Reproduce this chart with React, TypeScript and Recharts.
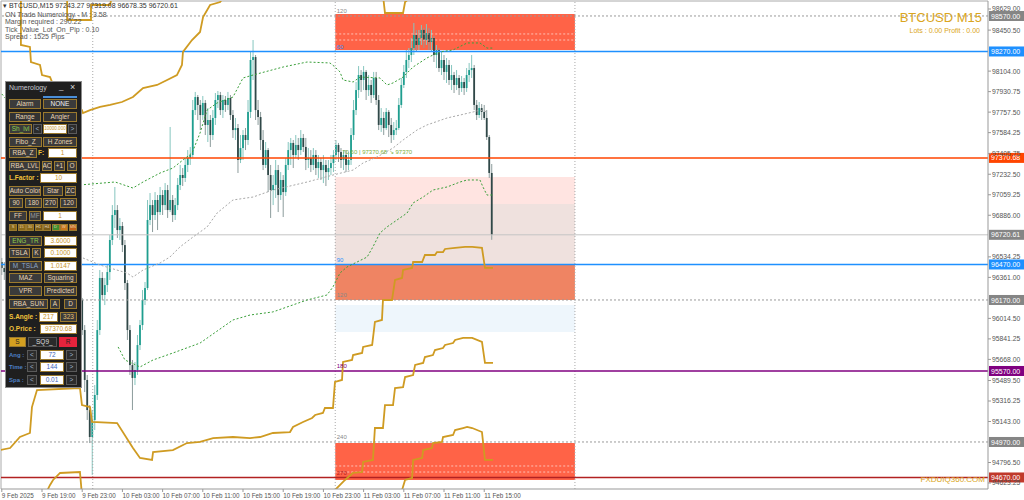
import React from 'react';
import { ComposedChart, Bar, Line, XAxis, YAxis, ReferenceLine, ReferenceArea, ReferenceDot } from 'recharts';

// ---- chart data (BTCUSD M15, bar index 0 = 9 Feb 15:00) ----
const firstOpen = 96491;
const barClose = [
  96440, 96406, 96508, 96592, 96634, 96719, 96677, 96803, 96888, 96829,
  96930, 96972, 96888, 96803, 96744, 96778, 96677, 96592, 96634, 96525,
  96491, 96550, 96440, 96381, 96423, 96322, 96271, 96339, 96254, 96187,
  96237, 96170, 95916, 95494, 95240, 95012, 95156, 95367, 95916, 96356,
  96212, 96296, 96406, 96677, 96888, 96930, 96761, 96795, 96634, 96313,
  95916, 95620, 95511, 95578, 95789, 95958, 96170, 96271, 96846, 96972,
  96888, 97015, 96913, 97057, 96972, 97099, 96930, 97015, 96888, 96972,
  97142, 97226, 97201, 97311, 97370, 97395, 97775, 97885, 97818, 97733,
  97835, 97649, 97691, 97564, 97708, 97860, 97902, 97775, 97860, 97818,
  97877, 97733, 97606, 97623, 97353, 97454, 97564, 97522, 97759, 98198,
  98223, 97775, 97716, 97522, 97311, 97437, 97226, 97099, 97142, 97268,
  97057, 97184, 97082, 97311, 97437, 97497, 97395, 97480, 97437, 97539,
  97463, 97353, 97370, 97311, 97395, 97285, 97336, 97268, 97311, 97251,
  97285, 97327, 97395, 97480, 97420, 97353, 97395, 97311, 97353, 97564,
  97775, 97944, 98071, 98029, 98097, 97944, 97987, 97902, 98046, 97860,
  97649, 97708, 97623, 97759, 97649, 97564, 97606, 97623, 97818, 97987,
  98097, 98198, 98240, 98299, 98409, 98325, 98384, 98452, 98367, 98426,
  98350, 98384, 98240, 98282, 98130, 98198, 98097, 98156, 98029, 98071,
  97987, 98046, 97961, 98012, 97961, 98071, 98113, 98130, 97818, 97733,
  97792, 97759, 97708, 97547, 97243.27, 96720.61,
];
const barHigh = [
  96525, 96491, 96550, 96634, 96694, 96778, 96761, 96863, 96947, 96930,
  97015, 97049, 97015, 96930, 96846, 96846, 96803, 96711, 96694, 96660,
  96592, 96609, 96575, 96491, 96491, 96457, 96372, 96406, 96372, 96296,
  96305, 96288, 96187, 95958, 95536, 95282, 95240, 95451, 96001, 96423,
  96406, 96356, 96465, 96719, 96972, 97125, 96972, 96863, 96829, 96677,
  96339, 95958, 95663, 95646, 95874, 96001, 96254, 96322, 97015, 97074,
  97015, 97082, 97057, 97125, 97099, 97158, 97142, 97632, 97057, 97032,
  97201, 97311, 97285, 97370, 97437, 97463, 97860, 97928, 97902, 97860,
  97894, 97860, 97792, 97733, 97775, 97919, 97936, 97928, 97902, 97894,
  97928, 97902, 97775, 97708, 97657, 97564, 97606, 97623, 97860, 98266,
  98367, 98240, 97860, 97759, 97606, 97505, 97454, 97311, 97226, 97353,
  97311, 97251, 97226, 97370, 97505, 97539, 97522, 97564, 97539, 97606,
  97573, 97539, 97454, 97437, 97454, 97437, 97395, 97370, 97395, 97353,
  97353, 97395, 97437, 97522, 97497, 97454, 97437, 97437, 97420, 97623,
  97860, 98012, 98147, 98113, 98147, 98113, 98071, 98029, 98097, 98097,
  97902, 97792, 97759, 97792, 97775, 97708, 97674, 97691, 97877, 98046,
  98156, 98282, 98299, 98384, 98511, 98452, 98452, 98494, 98468, 98502,
  98468, 98452, 98401, 98325, 98299, 98266, 98240, 98215, 98198, 98156,
  98097, 98113, 98071, 98063, 98046, 98130, 98173, 98240, 98156, 97860,
  97843, 97826, 97818, 97775, 97564, 97319.08,
];
const barLow = [
  96381, 96339, 96372, 96465, 96550, 96592, 96609, 96651, 96761, 96761,
  96795, 96888, 96829, 96744, 96677, 96694, 96609, 96541, 96550, 96465,
  96423, 96440, 96381, 96322, 96339, 96254, 96203, 96237, 96187, 96127,
  96170, 96085, 95874, 95392, 95156, 94961, 94691, 95071, 95325, 95874,
  96170, 96127, 96237, 96339, 96634, 96778, 96694, 96677, 96575, 96254,
  95832, 95536, 95240, 95451, 95536, 95747, 95916, 96127, 96254, 96803,
  96744, 96846, 96761, 96888, 96888, 96930, 96863, 96913, 96829, 96846,
  96930, 97099, 97133, 97167, 97251, 97311, 97370, 97733, 97691, 97606,
  97691, 97564, 97505, 97463, 97522, 97649, 97792, 97733, 97708, 97759,
  97775, 97691, 97539, 97522, 97243, 97327, 97353, 97437, 97480, 97708,
  98029, 97691, 97649, 97437, 97268, 97285, 97082, 96863, 96972, 97032,
  96913, 97015, 96871, 97049, 97268, 97311, 97285, 97370, 97353, 97395,
  97420, 97268, 97285, 97251, 97268, 97226, 97201, 97184, 97158, 97133,
  97184, 97226, 97251, 97353, 97336, 97285, 97268, 97251, 97268, 97311,
  97522, 97733, 97877, 97928, 97944, 97860, 97894, 97835, 97877, 97818,
  97606, 97590, 97564, 97606, 97547, 97497, 97522, 97564, 97606, 97792,
  97961, 98046, 98130, 98181, 98240, 98266, 98282, 98325, 98299, 98325,
  98282, 98266, 98181, 98130, 98097, 98071, 98029, 98004, 97987, 97944,
  97919, 97944, 97902, 97928, 97902, 97928, 98012, 98046, 97775, 97691,
  97708, 97691, 97691, 97522, 97201, 96678.35,
];

const timeTicks = [0, 16, 32, 48, 64, 80, 96, 112, 128, 144, 160, 176, 192];
const timeLabels = [
  '9 Feb 2025', '9 Feb 19:00', '9 Feb 23:00', '10 Feb 03:00', '10 Feb 07:00', '10 Feb 11:00',
  '10 Feb 15:00', '10 Feb 19:00', '10 Feb 23:00', '11 Feb 03:00', '11 Feb 07:00', '11 Feb 11:00', '11 Feb 15:00',
];
const priceTicks = [
  98629, 98450.5, 98104, 97930.75, 97757.5, 97584.25, 97405.75, 97232.5, 97059.25, 96886,
  96534.25, 96361, 96014.5, 95841.25, 95668, 95489.5, 95316.25, 95143, 94796.5, 94623.25,
];
const priceMin = 94572.6;
const priceMax = 98696.6;
const barFrom = -0.32;
const barTo = 392.5;

// moving averages [bar index, price]
const maUpper: [number, number][] = [
  [0, 97911], [31.1, 97142], [45.1, 97167], [52.2, 97116], [56.2, 97167], [63, 97243], [68.1, 97285],
  [72.1, 97353], [75.7, 97412], [78.9, 97581], [81.7, 97775], [85.7, 97835], [92, 97885], [96, 98046],
  [100, 98071], [112, 98139], [121.5, 98181], [130.6, 98173], [132.6, 98139], [134.6, 98097], [135.8, 98029],
  [139.8, 98012], [142.6, 98054], [150.5, 98046], [153.3, 97987], [155.7, 98004], [159.7, 98054], [163.7, 98139],
  [169.2, 98215], [171.6, 98240], [174.4, 98266], [179.6, 98283], [185.2, 98342], [190.3, 98342], [193.1, 98299],
  [195.5, 98299],
];
const maLower: [number, number][] = [
  [46.3, 95773], [49, 95663], [55, 95604], [60.2, 95663], [68.1, 95722], [78.9, 95806], [92, 96001],
  [98.8, 96043], [107.9, 96069], [121.5, 96170], [129.4, 96212], [131.8, 96280], [134.6, 96398], [137.4, 96449],
  [141.4, 96491], [145.4, 96533], [147.7, 96618], [150.5, 96736], [153.3, 96787], [157.3, 96846], [161.3, 96905],
  [163.7, 96990], [167.7, 97040], [171.6, 97099], [177.2, 97125], [182.4, 97167], [185.2, 97184], [190.3, 97184],
  [191.5, 97125], [193.1, 97057], [195.5, 97057],
];
const maSlow: [number, number][] = [
  [32.3, 96525], [39.1, 96465], [49.8, 96398], [52.2, 96364], [56.2, 96423], [63, 96483], [66.9, 96533],
  [70.9, 96618], [76.1, 96702], [81.7, 96787], [85.7, 96905], [92, 97015], [100, 97040], [107.9, 97099],
  [121.5, 97167], [131.8, 97226], [139.8, 97268], [143.8, 97328], [149.3, 97378], [155.7, 97454], [159.7, 97522],
  [165.3, 97607], [169.2, 97649], [177.2, 97708], [182.4, 97733], [187.6, 97759], [190.3, 97775], [193.5, 97759],
];

// numerology step levels [bar index, price]
const goldNotch: [number, number][] = [
  [26, 98747], [26, 98536], [35.5, 98536], [35.5, 98663], [43.1, 98663], [43.9, 98747],
];
const goldUpper: [number, number][] = [
  [7.6, 98747], [7.6, 98325], [11.2, 98308], [11.6, 98181], [15.2, 98156], [16, 98071], [19.2, 98054],
  [20, 98012], [24.4, 98012], [25.2, 97775], [31.9, 97775], [32.3, 97750], [35.1, 97775], [39.1, 97801],
  [43.1, 97818], [47.8, 97843], [52.2, 97885], [56.2, 97961], [61.8, 97987], [65.8, 98029], [69.7, 98071],
  [71.7, 98156], [72.1, 98266], [75.7, 98367], [78.9, 98435], [80.1, 98561], [82.9, 98663], [86.9, 98688],
  [88.8, 98747],
];
const goldCap: [number, number][] = [
  [151.7, 98747], [152.5, 98595], [159.7, 98595], [160.5, 98688], [163.7, 98747],
];
const goldMid: [number, number][] = [
  [-0.7, 94902], [3.3, 94919], [7.2, 95012], [11.2, 95046], [12, 95265], [14, 95409], [31.1, 95426],
  [31.9, 95282], [35.1, 95265], [35.9, 95139], [45.9, 95130], [52.2, 94919], [55, 94835], [59.8, 94818],
  [60.2, 94885], [68.1, 94902], [73.7, 94961], [78.9, 94970], [84.1, 95003], [92, 95012], [98.8, 95003],
  [102.8, 95012], [107.9, 95046], [114.7, 95054], [115.9, 95097], [119.9, 95139], [123.5, 95173],
  [124.7, 95198], [127.8, 95215], [128.6, 95257], [131.8, 95257], [132.6, 95477], [135.4, 95494],
  [135.8, 95646], [139.4, 95663], [139.8, 95705], [143.4, 95722], [143.8, 95773], [147.4, 95790],
  [148.5, 95984], [151.3, 96001], [151.7, 96170], [155.3, 96170], [156.5, 96339], [159.3, 96356],
  [159.7, 96424], [163.3, 96441], [163.7, 96491], [167.3, 96491], [168.4, 96550], [172.4, 96550],
  [173.2, 96575], [175.6, 96575], [176.4, 96601], [180.4, 96610], [184.4, 96618], [187.2, 96618],
  [191.1, 96610], [192.3, 96441], [195.5, 96441],
];
const goldLow: [number, number][] = [
  [17.2, 94522], [19.2, 94607], [20.4, 94649], [23.2, 94708], [31.1, 94716], [31.9, 94522], [60, 94310],
  [120, 94310], [131.8, 94522], [132.6, 94564], [136.6, 94649], [139.8, 94708], [143.4, 94716], [143.8, 94801],
  [147.7, 94818], [148.5, 95088], [151.7, 95088], [152.5, 95282], [155.7, 95282], [156.5, 95426],
  [159.7, 95434], [160.5, 95519], [163.7, 95536], [164.5, 95621], [167.7, 95638], [168.4, 95688],
  [171.6, 95705], [172.4, 95747], [175.6, 95764], [176.4, 95790], [179.6, 95806], [180.4, 95832],
  [183.6, 95849], [187.2, 95849], [191.1, 95815], [192.3, 95638], [195.5, 95638],
];
const goldBottom: [number, number][] = [
  [158.5, 94310], [159.3, 94564], [160.5, 94649], [163.3, 94666], [163.7, 94818], [167.3, 94835],
  [167.7, 94902], [171.2, 94919], [171.6, 94961], [175.2, 94970], [175.6, 95012], [179.6, 95029],
  [180.4, 95071], [183.6, 95088], [185.2, 95097], [187.2, 95088], [191.1, 95054], [192.3, 94818],
  [195.5, 94818],
];

// horizontal levels
const levelPrices = [98570, 98270, 97370.68, 96720.61, 96470, 96170, 95570, 94970, 94670];
const levelStyles = [
  { stroke: '#9a9a9a', dash: '2 2', w: 1, tag: '#858585' },
  { stroke: '#1e90ff', dash: undefined, w: 1.5, tag: '#1e90ff' },
  { stroke: '#ff4500', dash: undefined, w: 1.5, tag: '#ff4500' },
  { stroke: '#c4c4c4', dash: undefined, w: 1, tag: '#858585' },
  { stroke: '#1e90ff', dash: undefined, w: 1.5, tag: '#1e90ff' },
  { stroke: '#9a9a9a', dash: '2 2', w: 1, tag: '#858585' },
  { stroke: '#800080', dash: undefined, w: 1.5, tag: '#800080' },
  { stroke: '#9a9a9a', dash: '2 2', w: 1, tag: '#858585' },
  { stroke: '#b22222', dash: undefined, w: 1.5, tag: '#c0392b' },
];
const angleTexts = ['120', '60', '90', '120', '180', '240', '270'];
const anglePrices = [98570, 98270, 96470, 96170, 95570, 94970, 94670];
const angleColors = ['#888', '#1e90ff', '#1e90ff', '#888', '#800080', '#888', '#b22222'];

// zone boxes
const zoneFrom = 132.7;
const zoneTo = 228.1;
const zoneBands: [number, number][] = [
  [98282, 98587], [96981, 97209], [96474, 96981], [96170, 96465], [95899, 96127], [94649, 94961],
];
const zoneFills = ['#ff6347', '#ffe4e1', '#efe1de', '#ef8463', '#eef6fc', '#ff6347'];
const zoneDashPrices = [98418, 98367, 94767, 94716];
const sessionMarks = [36.2, 132.7, 228.1];
const pivotNote = '70.60 | 97370.68   \u2198 97370';

const candles = barClose.map((c, k) => ({
  i: k,
  o: k === 0 ? firstOpen : barClose[k - 1],
  h: barHigh[k],
  l: barLow[k],
  c,
}));
const pts = (arr: [number, number][]) => arr.map(([i, v]) => ({ i, v }));

const BULL = '#1f9e8f';
const BEAR = '#304848';

const Candle = (props: any) => {
  const { x, y, width, height } = props;
  const p = props.payload || props;
  if (x == null || y == null || !p || p.h === p.l) return null;
  const top = Math.min(y, y + height);
  const hh = Math.abs(height);
  const k = hh / (p.h - p.l);
  const cx = x + width / 2;
  const up = p.c >= p.o;
  const bTop = top + (p.h - Math.max(p.o, p.c)) * k;
  const bH = Math.max(1, Math.abs(p.o - p.c) * k);
  return (
    <g>
      <line x1={cx} x2={cx} y1={top} y2={top + hh} stroke={up ? '#86c6bf' : '#8c9c9c'} strokeWidth={1} />
      <rect x={cx - 0.9} y={bTop} width={1.8} height={bH} fill={up ? BULL : BEAR} />
    </g>
  );
};

const TimeTick = (props: any) => {
  const { x, y, payload } = props;
  const idx = timeTicks.indexOf(payload.value);
  return (
    <text x={x} y={y + 5.5} fontSize={6.3} fill="#555" textAnchor="start">
      {timeLabels[idx]}
    </text>
  );
};

const priceTag = (bg: string, text: string) => (props: any) => {
  const vb = props.viewBox || {};
  const x = vb.x + vb.width + 1;
  const y = vb.y;
  return (
    <g>
      <rect x={x} y={y - 5} width={35} height={10} fill={bg} />
      <text x={x + 2} y={y + 2.6} fontSize={7} fill="#fff">{text}</text>
    </g>
  );
};

// ---- Numerology panel ----
type Kind = 'btn' | 'nav' | 'inp' | 'lab' | 'blab' | 'binp';
const kindStyle: Record<Kind, React.CSSProperties> = {
  btn: { background: '#3b3b3b', border: '1px solid #9b7a2e', color: '#e8d4b4' },
  nav: { background: '#2c2c2c', border: '1px solid #5a5a5a', color: '#9fb4cc' },
  inp: { background: '#ffffff', border: '1px solid #9b7a2e', color: '#c8952c' },
  binp: { background: '#ffffff', border: '1px solid #9b7a2e', color: '#3f66b8' },
  lab: { color: '#f0c23c', fontWeight: 700, justifyContent: 'flex-start', overflow: 'visible' },
  blab: { color: '#4d7fc4', fontWeight: 700, justifyContent: 'flex-start', overflow: 'visible', fontSize: 6 },
};
type Item = [number, number, number, number, string, Kind, React.CSSProperties?];
const panelItems: Item[] = [
  [9, 99, 32, 10, 'Alarm', 'btn'], [43, 99, 34, 10, 'NONE', 'btn', { color: '#f2f2f2' }],
  [9, 112, 32, 10, 'Range', 'btn', { background: '#333' }], [43, 112, 34, 10, 'Angler', 'btn', { background: '#333' }],
  [9, 124, 23, 10, 'Sh_lvl', 'btn', { color: '#8fcf4a' }], [33, 124, 9, 10, '<', 'nav'],
  [43, 124, 24, 10, '10000.000', 'inp', { fontSize: 4.5 }], [68, 124, 9, 10, '>', 'nav'],
  [9, 137, 33, 10, 'Fibo_Z', 'btn'], [43, 137, 34, 10, 'H Zones', 'btn'],
  [9, 148, 28, 10, 'RBA_Z', 'btn'], [38, 148, 9, 10, 'F:', 'lab'], [48, 148, 29, 10, '1', 'inp'],
  [9, 161, 31, 10, 'RBA_LVL', 'btn'], [42, 161, 10, 10, 'AC', 'btn'], [54, 161, 11, 10, '+1', 'btn'],
  [67, 161, 10, 10, 'O', 'btn'],
  [9, 173, 30, 10, 'L.Factor :', 'lab'], [40, 173, 37, 10, '10', 'inp'],
  [9, 186, 32, 10, 'Auto Color', 'btn'], [43, 186, 20, 10, 'Star', 'btn'], [65, 186, 11, 10, 'ZC', 'btn'],
  [9, 198, 14, 10, '90', 'btn'], [25, 198, 17, 10, '180', 'btn'], [43, 198, 15, 10, '270', 'btn'],
  [60, 198, 17, 10, '120', 'btn'],
  [9, 211, 18, 10, 'FF', 'btn'], [29, 211, 12, 10, 'MF', 'btn', { color: '#9a9a9a' }], [43, 211, 34, 10, '1', 'inp'],
  [9, 223.5, 8, 7, 'S', 'btn', { background: '#8b6a1a', fontSize: 4 }],
  [17.5, 223.5, 8, 7, '15', 'btn', { background: '#8b6a1a', fontSize: 4 }],
  [26, 223.5, 8, 7, '30', 'btn', { background: '#8b6a1a', fontSize: 4 }],
  [34.5, 223.5, 8, 7, 'H1', 'btn', { background: '#7a5c18', fontSize: 4 }],
  [43, 223.5, 8, 7, 'H4', 'btn', { background: '#7a5c18', fontSize: 4 }],
  [51.5, 223.5, 8, 7, 'D', 'btn', { background: '#3f8f2f', fontSize: 4 }],
  [60, 223.5, 8, 7, 'W', 'btn', { background: '#c8781e', fontSize: 4 }],
  [68.5, 223.5, 8.5, 7, 'MN', 'btn', { background: '#c0601a', fontSize: 4 }],
  [9, 236, 33, 10, 'ENG_TR', 'btn', { color: '#8fcf4a' }], [44, 236, 33, 10, '3.6000', 'inp'],
  [9, 248, 21, 10, 'TSLA', 'btn'], [32, 248, 9, 10, 'K', 'btn'], [44, 248, 33, 10, '0.1000', 'inp'],
  [9, 261, 33, 10, 'M_TSLA', 'btn', { color: '#8ea4c4' }], [44, 261, 33, 10, '1.0147', 'inp'],
  [9, 273, 33, 10, 'MAZ', 'btn'], [44, 273, 33, 10, 'Squaring', 'btn'],
  [9, 286, 33, 10, 'VPR', 'btn'], [44, 286, 33, 10, 'Predicted', 'btn'],
  [9, 299, 39, 10, 'RBA_SUN', 'btn'], [50, 299, 10, 10, 'A', 'btn'], [64, 299, 13, 10, 'D', 'btn'],
  [9, 312, 30, 10, 'S.Angle :', 'lab'], [39, 312, 19, 10, '217', 'inp'], [60, 312, 17, 10, '323', 'btn', { color: '#e6c070' }],
  [9, 324, 30, 10, 'O.Price :', 'lab'], [40, 324, 37, 10, '97370.68', 'inp'],
  [9, 337, 17, 10, 'S', 'btn', { background: '#d4a020', color: '#222' }],
  [28, 337, 29, 10, '_SQ9_', 'btn', { background: '#2a2a2a', color: '#ddd', border: '1px solid #555' }],
  [59, 337, 18, 10, 'R', 'btn', { background: '#e6233c', color: '#222', border: '1px solid #e6233c' }],
  [9, 350, 17, 10, 'Ang :', 'blab'], [27, 350, 10, 10, '<', 'nav'], [40, 350, 24, 10, '72', 'binp'], [66, 350, 11, 10, '>', 'nav'],
  [9, 362, 17, 10, 'Time :', 'blab'], [27, 362, 10, 10, '<', 'nav'], [40, 362, 24, 10, '144', 'binp'], [66, 362, 11, 10, '>', 'nav'],
  [9, 375, 17, 10, 'Spa :', 'blab'], [27, 375, 10, 10, '<', 'nav'], [40, 375, 24, 10, '0.01', 'binp'], [66, 375, 11, 10, '>', 'nav'],
];

const Panel = () => (
  <>
    <div style={{ position: 'absolute', left: 5, top: 81, width: 77, height: 307, boxSizing: 'border-box', background: '#1f1f1f', border: '1px solid #8c8c8c' }} />
    <div style={{ position: 'absolute', left: 9, top: 84, fontSize: 7, color: '#c8c8d0' }}>Numerology</div>
    <div style={{ position: 'absolute', left: 59, top: 82, fontSize: 8, color: '#ddd' }}>_</div>
    <div style={{ position: 'absolute', left: 70, top: 82, fontSize: 9, color: '#ddd' }}>×</div>
    <div style={{ position: 'absolute', left: 43, top: 96, width: 34, height: 2, background: '#4a8fd8' }} />
    {panelItems.map(([x, y, w, h, text, kind, extra], n) => (
      <div
        key={n}
        style={{
          position: 'absolute', left: x, top: y, width: w, height: h, boxSizing: 'border-box',
          display: 'flex', alignItems: 'center', justifyContent: 'center', fontSize: 6.5, lineHeight: 1,
          whiteSpace: 'nowrap', overflow: 'hidden', ...kindStyle[kind], ...(extra || {}),
        }}
      >
        {text}
      </div>
    ))}
  </>
);

const infoLines = [
  '\u25BE BTCUSD,M15  97243.27 97319.08 96678.35 96720.61',
  'ON Trade Numerology - M : 3.58',
  'Margin required : 290.22',
  'Tick_Value_Lot_On_Pip : 0.10',
  'Spread : 1525  Pips',
];

export default function App() {
  const goldSeries = [goldNotch, goldUpper, goldCap, goldMid, goldLow, goldBottom];
  return (
    <div style={{ position: 'relative', width: 1024, height: 500, background: '#fff', overflow: 'hidden', fontFamily: '"Liberation Sans", Arial, sans-serif' }}>
      <style>{'body{margin:0}'}</style>
      <ComposedChart width={1024} height={500} data={candles} margin={{ top: 1, right: 0, bottom: 0, left: 1 }}>
        <XAxis
          dataKey="i" type="number" domain={[barFrom, barTo]} allowDataOverflow ticks={timeTicks}
          tick={<TimeTick />} height={11} tickSize={3} tickMargin={0} stroke="#999" interval={0}
        />
        <YAxis
          orientation="right" type="number" domain={[priceMin, priceMax]} allowDataOverflow ticks={priceTicks}
          width={36} tickSize={3} tickMargin={1} stroke="#999" interval={0}
          tick={{ fontSize: 6.8, fill: '#555' }} tickFormatter={(v: number) => v.toFixed(2)}
        />
        {zoneBands.map(([lo, hi], n) => (
          <ReferenceArea key={`z${n}`} x1={zoneFrom} x2={zoneTo} y1={lo} y2={hi} fill={zoneFills[n]} fillOpacity={1} stroke="none" />
        ))}
        {zoneDashPrices.map((p, n) => (
          <ReferenceLine key={`zd${n}`} segment={[{ x: zoneFrom, y: p }, { x: zoneTo, y: p }]} stroke="rgba(255,255,255,0.6)" strokeDasharray="2 2" />
        ))}
        {sessionMarks.map((m, n) => (
          <ReferenceLine key={`s${n}`} x={m} stroke="#a8a8a8" strokeDasharray="1 2" />
        ))}
        <ReferenceLine y={priceMax} stroke="#aaa" />
        <ReferenceLine x={barFrom} stroke="#aaa" />
        {levelPrices.map((p, n) => (
          <ReferenceLine
            key={`l${n}`} y={p} stroke={levelStyles[n].stroke} strokeWidth={levelStyles[n].w}
            strokeDasharray={levelStyles[n].dash} label={priceTag(levelStyles[n].tag, p.toFixed(2))}
          />
        ))}
        <Line data={pts(maUpper)} dataKey="v" stroke="#3a9f3a" strokeWidth={1} strokeDasharray="2 2" dot={false} isAnimationActive={false} />
        <Line data={pts(maLower)} dataKey="v" stroke="#3a9f3a" strokeWidth={1} strokeDasharray="2 2" dot={false} isAnimationActive={false} />
        <Line data={pts(maSlow)} dataKey="v" stroke="#a8a8a8" strokeWidth={1} strokeDasharray="2 2" dot={false} isAnimationActive={false} />
        {goldSeries.map((s, n) => (
          <Line key={`g${n}`} data={pts(s)} dataKey="v" stroke="#cf9b22" strokeWidth={1.8} dot={false} isAnimationActive={false} />
        ))}
        <Bar dataKey={(d: any) => [d.l, d.h]} barSize={2} shape={<Candle />} isAnimationActive={false} />
        {anglePrices.map((p, n) => (
          <ReferenceDot
            key={`a${n}`} x={133.3} y={p} r={1}
            shape={(sp: any) => <text x={sp.cx} y={sp.cy - 2.5} fontSize={6} fill={angleColors[n]}>{angleTexts[n]}</text>}
          />
        ))}
        <ReferenceDot
          x={135.5} y={97370.68} r={1}
          shape={(sp: any) => <text x={sp.cx} y={sp.cy - 4} fontSize={6} fill="#7daf3c">{pivotNote}</text>}
        />
      </ComposedChart>

      {infoLines.map((t, n) => (
        <div key={`t${n}`} style={{ position: 'absolute', left: n === 0 ? 3 : 5, top: n === 0 ? 1.5 : 10.5 + (n - 1) * 7.5, fontSize: 7, color: n === 0 ? '#333' : '#555', whiteSpace: 'nowrap' }}>
          {t}
        </div>
      ))}
      <div style={{ position: 'absolute', right: 42, top: 10, fontSize: 13, color: '#daa520' }}>BTCUSD M15</div>
      <div style={{ position: 'absolute', right: 44, top: 27, fontSize: 7, color: '#daa520' }}>Lots : 0.00 Profit : 0.00</div>
      <div style={{ position: 'absolute', right: 39, top: 475, fontSize: 8, color: '#daa520' }}>FXDUIQ360.COM</div>
      <Panel />
    </div>
  );
}
